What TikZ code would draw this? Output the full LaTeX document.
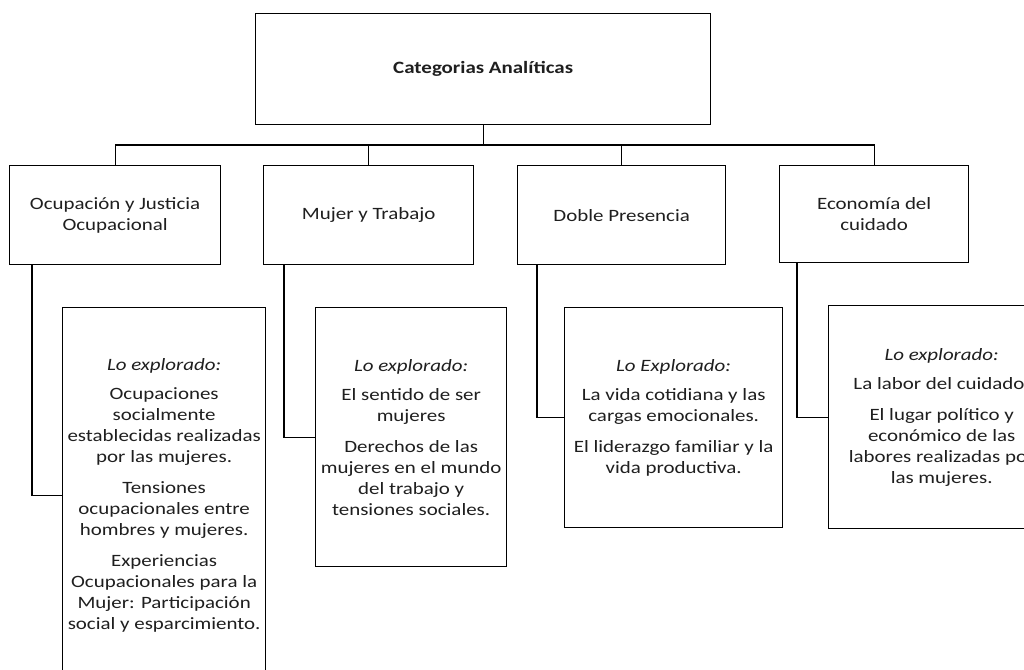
\documentclass[tikz,border=0pt]{standalone}
\usepackage{fontspec}
\setmainfont{Carlito}[FakeStretch=1.21]
\begin{document}
\begin{tikzpicture}[x=1pt,y=-1pt,
  box/.style={draw=black, line width=1.3pt, inner sep=0pt, align=center, anchor=north west,
    font=\fontsize{17.3}{21}\selectfont, text=black!88},
  link/.style={draw=black, line width=1.3pt}]
\clip (0,0) rectangle (1024,669);
\fill[white] (0,0) rectangle (1024,669);
% top
\node[box, minimum width=455pt, minimum height=111pt] (top) at (255,13) {\textbf{Categorias Analíticas}};
% level 2
\node[box, minimum width=211pt, minimum height=99pt] (b1) at (9,165) {Ocupación y Justicia\\Ocupacional};
\node[box, minimum width=210pt, minimum height=99pt] (b2) at (263,165) {Mujer y Trabajo};
\node[box, minimum width=208pt, minimum height=99pt] (b3) at (517,165) {Doble Presencia};
\node[box, minimum width=189pt, minimum height=97pt] (b4) at (779,165) {Economía del\\cuidado};
% details
\node[box, minimum width=203pt, minimum height=376pt] (d1) at (62,307) {\textit{Lo explorado:}\\[8pt]
Ocupaciones\\socialmente\\establecidas realizadas\\por las mujeres.\\[10pt]
Tensiones\\ocupacionales entre\\hombres y mujeres.\\[10pt]
Experiencias\\Ocupacionales para la\\Mujer: Participación\\social y esparcimiento.};
\node[box, minimum width=191pt, minimum height=259pt] (d2) at (315,307) {\textit{Lo explorado:}\\[8pt]
El sentido de ser\\mujeres\\[10pt]
Derechos de las\\mujeres en el mundo\\del trabajo y\\tensiones sociales.};
\node[box, minimum width=218pt, minimum height=220pt] (d3) at (564,307) {\textit{Lo Explorado:}\\[8pt]
La vida cotidiana y las\\cargas emocionales.\\[10pt]
El liderazgo familiar y la\\vida productiva.};
\node[box, minimum width=226pt, minimum height=223pt] (d4) at (828,305) {\textit{Lo explorado:}\\[8pt]
La labor del cuidado.\\[10pt]
El lugar político y\\económico de las\\labores realizadas por\\las mujeres.};
% connectors
\draw[link] (top.south) -- ++(0,21);
\draw[link] (b1.north) -- ++(0,-20) -| (b4.north);
\draw[link] (b2.north) -- ++(0,-20);
\draw[link] (b3.north) -- ++(0,-20);
\draw[link] ([xshift=23pt]b1.south west) |- (d1.west);
\draw[link] ([xshift=21pt]b2.south west) |- (d2.west);
\draw[link] ([xshift=20pt]b3.south west) |- (d3.west);
\draw[link] ([xshift=18pt]b4.south west) |- (d4.west);
\end{tikzpicture}
\end{document}
